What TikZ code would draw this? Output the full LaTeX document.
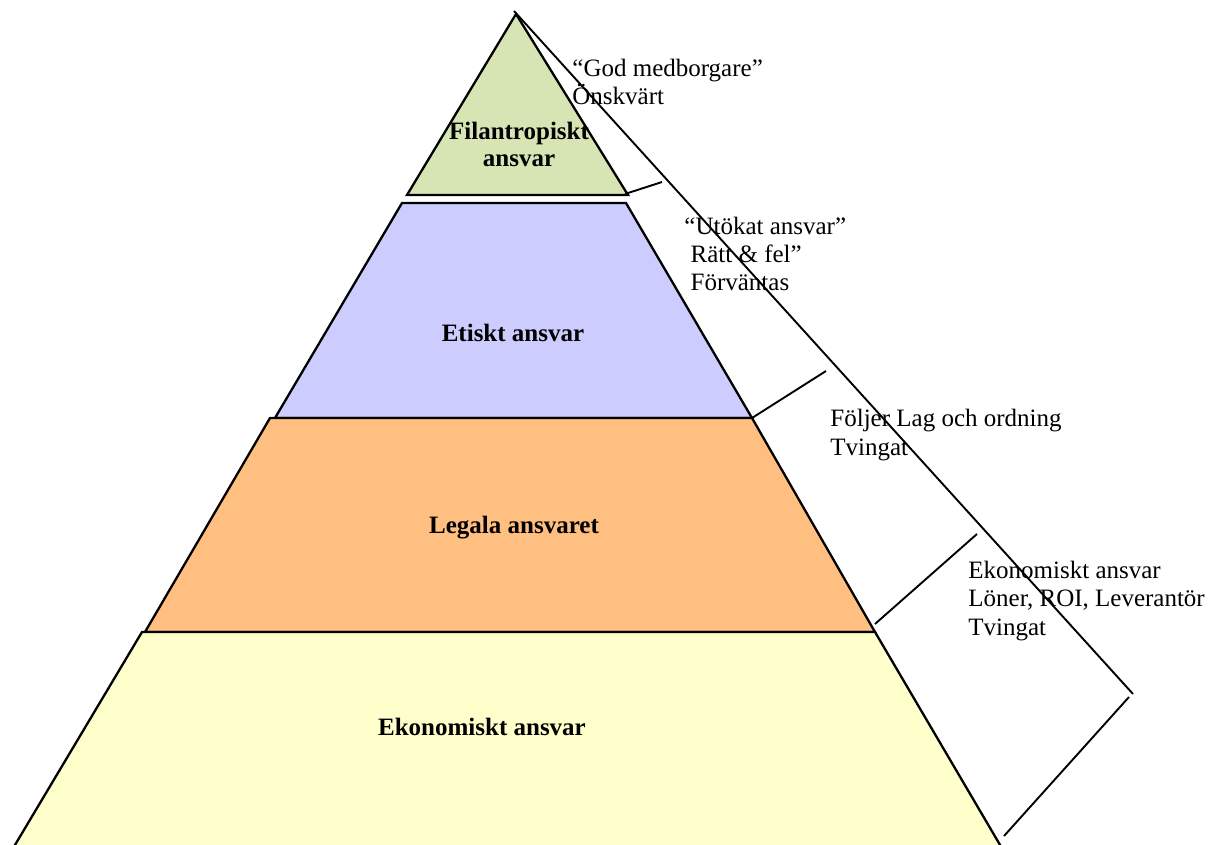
\documentclass[tikz,border=0pt]{standalone}
\usepackage{fontspec}
\setmainfont{Liberation Serif}
\definecolor{filgreen}{RGB}{215,228,180}
\definecolor{etiklila}{RGB}{204,204,255}
\definecolor{legorange}{RGB}{255,191,128}
\definecolor{ekogul}{RGB}{255,255,204}

\begin{document}
\begin{tikzpicture}[x=0.5pt, y=-0.5pt,
    band/.style={draw=black, line width=1.15pt, line join=miter},
    level/.style={font=\bfseries\fontsize{12.5}{13.5}\selectfont, align=center, inner sep=0pt, anchor=base},
    note/.style={font=\fontsize{12.5}{14.2}\selectfont, align=left, anchor=base west, inner sep=0pt},
    brace/.style={draw=black, line width=0.95pt}]
    \useasboundingbox (0,0) rectangle (1221,845);

    % Corners
    \coordinate (apex) at (516,14);
    \coordinate (filR) at (628,195);
    \coordinate (filL) at (407,195);
    \coordinate (etiTL) at (402,203);
    \coordinate (etiTR) at (626,203);
    \coordinate (etiBR) at (752,418);
    \coordinate (etiBL) at (275,418);
    \coordinate (legTL) at (270,418);
    \coordinate (legTR) at (752,418);
    \coordinate (legBR) at (875,632);
    \coordinate (legBL) at (145,632);
    \coordinate (ekoTL) at (142,632);
    \coordinate (ekoTR) at (875,632);
    \coordinate (ekoBR) at (1003,850);
    \coordinate (ekoBL) at (12,850);

    % Bands
    \filldraw[band, fill=filgreen] (apex) -- (filR) -- (filL) -- cycle;
    \filldraw[band, fill=etiklila] (etiTL) -- (etiTR) -- (etiBR) -- (etiBL) -- cycle;
    \filldraw[band, fill=legorange] (legTL) -- (legTR) -- (legBR) -- (legBL) -- cycle;
    \filldraw[band, fill=ekogul] (ekoTL) -- (ekoTR) -- (ekoBR) -- (ekoBL) -- cycle;

    % Levels (base = last line)
    \node[level] (fil) at (519,167) {Filantropiskt\\ansvar};
    \node[level] (eti) at (513,342) {Etiskt ansvar};
    \node[level] (leg) at (514,533) {Legala ansvaret};
    \node[level] (eko) at (482,735) {Ekonomiskt ansvar};

    % Bracket
    \coordinate (bTop) at (514,11);
    \coordinate (bCorner) at (1133,694);
    \coordinate (bCorner2) at (1129,697);
    \coordinate (bEnd) at (1004,836);
    \coordinate (t1) at (662,182);
    \coordinate (t2) at (826,371);
    \coordinate (t3) at (977,534);
    \draw[brace] (bTop) -- (bCorner);
    \draw[brace] (bCorner2) -- (bEnd);
    \draw[brace] (filR) ++(-3,-1) coordinate (t1s) -- (t1);
    \draw[brace] (etiBR) -- (t2);
    \draw[brace] (legBR) ++(0,-8) coordinate (t3s) -- (t3);

    % Notes (base = last line)
    \node[note] (godm) at (572,105) {“God medborgare”\\Önskvärt};
    \node[note] (utok) at (684,291) {“Utökat ansvar”\\\hspace*{0.25em}Rätt \& fel”\\\hspace*{0.25em}Förväntas};
    \node[note] (lag) at (830,455) {Följer Lag och ordning\\Tvingat};
    \node[note] (ekon) at (968,635) {Ekonomiskt ansvar\\Löner, ROI, Leverantör\\Tvingat};
\end{tikzpicture}
\end{document}
